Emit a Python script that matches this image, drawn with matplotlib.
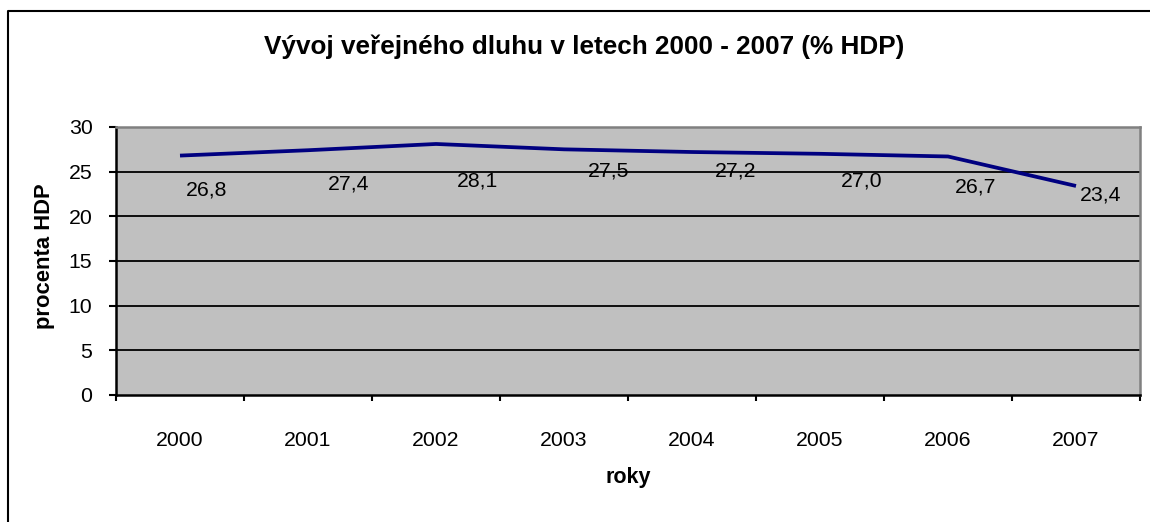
import matplotlib.pyplot as plt
from matplotlib.lines import Line2D
import numpy as np

plt.rcParams['font.family'] = ['Liberation Sans', 'DejaVu Sans']

# data
roky = ['2000', '2001', '2002', '2003', '2004', '2005', '2006', '2007']
dluh = [26.8, 27.4, 28.1, 27.5, 27.2, 27.0, 26.7, 23.4]
y_ticks = [0, 5, 10, 15, 20, 25, 30]

# label offsets (pixels) as placed in the original
lab_dx = [27, 41, 41, 45, 44, 42, 28, 25]
lab_dy = [-34, -34, -37, -22, -19, -27, -31, -9]

W, H = 1150, 522
fig = plt.figure(figsize=(W / 100, H / 100), dpi=100)
ax = fig.add_axes([116 / W, (H - 395) / H, 1024 / W, 268 / H])

x = np.arange(len(roky))
ax.set_facecolor('#C0C0C0')
ax.plot(x, dluh, color='#000080', lw=2.7, solid_capstyle='butt', zorder=3)

for i, v in enumerate(dluh):
    ax.annotate(f"{v:.1f}".replace('.', ','), (x[i], v),
                xytext=(lab_dx[i], lab_dy[i]), textcoords='offset pixels',
                ha='center', va='center', fontsize=15.3, color='black', zorder=4)

ax.set_xlim(-0.5, len(roky) - 0.5)
ax.set_ylim(0, 30)
ax.set_yticks(y_ticks)
ax.set_yticklabels([str(t) for t in y_ticks], fontsize=15.3)
for t in y_ticks[1:-1]:
    ax.axhline(t, color='black', lw=1.3, zorder=2)

ax.set_xticks(x)
ax.set_xticklabels(roky, fontsize=15.3)
ax.set_xticks(np.arange(len(roky) + 1) - 0.5, minor=True)
ax.tick_params(axis='x', which='major', length=0, pad=26)
ax.tick_params(axis='x', which='minor', length=4, width=1.5, color='black')
ax.tick_params(axis='y', length=5, width=1.5, pad=12, color='black')

for s in ['left', 'bottom']:
    ax.spines[s].set_color('black')
    ax.spines[s].set_linewidth(1.8)
for s in ['top', 'right']:
    ax.spines[s].set_color('#808080')
    ax.spines[s].set_linewidth(1.8)

fig.text(584 / W, 1 - 47 / H, 'Vývoj veřejného dluhu v letech 2000 - 2007 (% HDP)',
         ha='center', va='center', fontsize=18.8, fontweight='bold')
fig.text(45 / W, 1 - 256 / H, 'procenta HDP', rotation=90,
         ha='center', va='center', fontsize=15.8, fontweight='bold')
fig.text(628 / W, 1 - 477 / H, 'roky', ha='center', va='center',
         fontsize=15.5, fontweight='bold')

# outer chart frame (cut off at right and bottom)
fig.add_artist(Line2D([8 / W, 8 / W, 1.0], [0.0, 1 - 11 / H, 1 - 11 / H],
                      transform=fig.transFigure, color='black', lw=1.5))

plt.savefig('out.png', dpi=100)
plt.close()
